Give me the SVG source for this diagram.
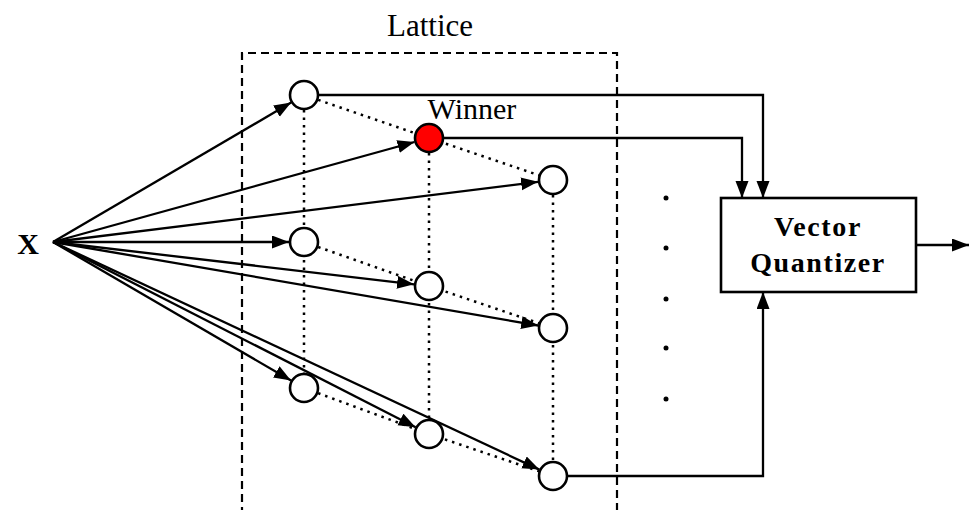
<svg xmlns="http://www.w3.org/2000/svg" width="970" height="510" viewBox="0 0 970 510">
  <style>
    .txt { font-family: "Liberation Serif", "Times New Roman", "DejaVu Serif", serif; fill: #000; }
    .bold { font-weight: bold; }
    .wire { stroke: #000; stroke-width: 2.3; fill: none; }
    .dot { stroke: #000; stroke-width: 2.5; fill: none; stroke-dasharray: 2.5 5; }
    .node { stroke: #000; stroke-width: 2.6; fill: #fff; }
    .win { fill: #ff0000; }
    .frame { stroke: #000; stroke-width: 2.2; fill: none; stroke-dasharray: 8 5; }
  </style>
  <defs>
    <marker id="arrow" markerUnits="userSpaceOnUse" markerWidth="18" markerHeight="14" refX="17" refY="6.5" orient="auto">
      <path d="M0,0 L17,6.5 L0,13 z" fill="#000"/>
    </marker>
  </defs>

  <rect width="970" height="510" fill="#fff"/>

  <!-- lattice frame -->
  <g id="lattice">
    <path class="frame" d="M242,515 V53 H617 V515"/>
    <text class="txt" x="430" y="36" font-size="31" text-anchor="middle">Lattice</text>
  </g>

  <!-- lattice neighbourhood links -->
  <g id="lattice-links">
    <line class="dot" x1="304" y1="95" x2="304" y2="388"/>
    <line class="dot" x1="429" y1="138" x2="429" y2="434"/>
    <line class="dot" x1="553" y1="180" x2="553" y2="476"/>
    <polyline class="dot" points="304,95 429,138 553,180"/>
    <polyline class="dot" points="304,242 429,286 553,328"/>
    <polyline class="dot" points="304,388 429,434 553,476"/>
  </g>

  <!-- connectors -->
  <g id="connectors">
    <line class="wire" x1="53" y1="242" x2="291.1" y2="102.6" marker-end="url(#arrow)"/>
    <line class="wire" x1="53" y1="242" x2="414.5" y2="142" marker-end="url(#arrow)"/>
    <line class="wire" x1="53" y1="242" x2="538.1" y2="181.8" marker-end="url(#arrow)"/>
    <line class="wire" x1="53" y1="242" x2="289" y2="242" marker-end="url(#arrow)"/>
    <line class="wire" x1="53" y1="242" x2="414.1" y2="284.3" marker-end="url(#arrow)"/>
    <line class="wire" x1="53" y1="242" x2="538.2" y2="325.5" marker-end="url(#arrow)"/>
    <line class="wire" x1="53" y1="242" x2="291" y2="380.5" marker-end="url(#arrow)"/>
    <line class="wire" x1="53" y1="242" x2="415.6" y2="427.2" marker-end="url(#arrow)"/>
    <line class="wire" x1="53" y1="242" x2="539.4" y2="469.6" marker-end="url(#arrow)"/>
    <polyline class="wire" points="318,95 763,95 763,198" marker-end="url(#arrow)"/>
    <polyline class="wire" points="443,138 742,138 742,198" marker-end="url(#arrow)"/>
    <polyline class="wire" points="567,476 763,476 763,292" marker-end="url(#arrow)"/>
    <line class="wire" x1="916" y1="245" x2="969" y2="245" marker-end="url(#arrow)"/>
  </g>

  <!-- input -->
  <g id="input-x">
    <text class="txt bold" x="28" y="254" font-size="30" text-anchor="middle">X</text>
  </g>

  <!-- lattice neurons -->
  <g id="n11"><circle class="node" cx="304" cy="95" r="14"/></g>
  <g id="n12"><circle class="node win" cx="429" cy="138" r="14"/>
    <text class="txt" x="472" y="119" font-size="30" text-anchor="middle">Winner</text></g>
  <g id="n13"><circle class="node" cx="553" cy="180" r="14"/></g>
  <g id="n21"><circle class="node" cx="304" cy="242" r="14"/></g>
  <g id="n22"><circle class="node" cx="429" cy="286" r="14"/></g>
  <g id="n23"><circle class="node" cx="553" cy="328" r="14"/></g>
  <g id="n31"><circle class="node" cx="304" cy="388" r="14"/></g>
  <g id="n32"><circle class="node" cx="429" cy="434" r="14"/></g>
  <g id="n33"><circle class="node" cx="553" cy="476" r="14"/></g>

  <!-- continuation dots -->
  <g id="ellipsis" fill="#000">
    <circle cx="666" cy="198" r="2.5"/>
    <circle cx="666" cy="248" r="2.5"/>
    <circle cx="666" cy="299" r="2.5"/>
    <circle cx="666" cy="348" r="2.5"/>
    <circle cx="666" cy="399" r="2.5"/>
  </g>

  <!-- quantizer block -->
  <g id="vector-quantizer">
    <rect x="721" y="198" width="195" height="94" fill="#fff" stroke="#000" stroke-width="2.6"/>
    <text class="txt bold" x="818" y="236" font-size="28" letter-spacing="1.6" text-anchor="middle">Vector</text>
    <text class="txt bold" x="818" y="272" font-size="28" letter-spacing="1.6" text-anchor="middle">Quantizer</text>
  </g>
</svg>
